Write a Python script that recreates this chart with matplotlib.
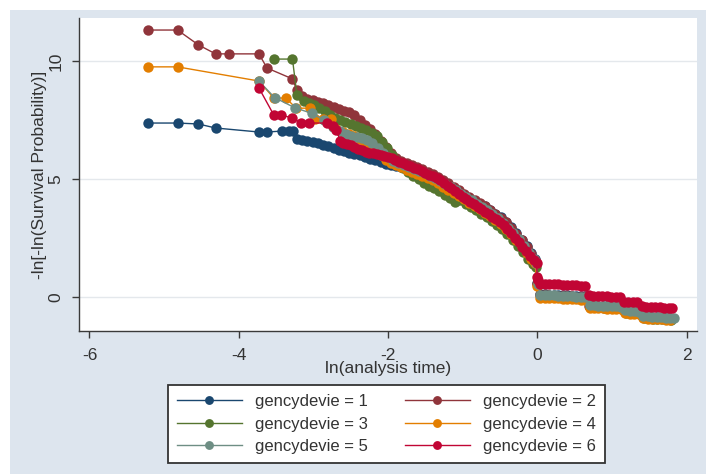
import matplotlib
matplotlib.use("Agg")
import matplotlib.pyplot as plt
from matplotlib.patches import Rectangle

plt.rcParams['font.family'] = ['Liberation Sans', 'DejaVu Sans']

labels = ["gencydevie = 1", "gencydevie = 2", "gencydevie = 3",
          "gencydevie = 4", "gencydevie = 5", "gencydevie = 6"]
colors = ["#1a476f", "#90353b", "#55752f", "#e37e00", "#6e8e84", "#c10534"]

# ---- series 1 (navy)
x1 = [-5.22, -4.82, -4.54, -4.31, -3.73, -3.62, -3.42, -3.33, -3.27,
      -3.22, -3.15, -3.08, -3.01, -2.94, -2.87, -2.80, -2.73, -2.66, -2.59, -2.52, -2.45,
      -2.38, -2.31, -2.24, -2.17, -2.10, -2.03, -1.96, -1.89, -1.82, -1.75, -1.68, -1.61,
      -1.54, -1.47, -1.40, -1.33, -1.26, -1.19, -1.12, -1.05, -0.98, -0.91, -0.84, -0.77,
      -0.70, -0.63, -0.56, -0.49, -0.42, -0.35, -0.28, -0.21, -0.14, -0.08, -0.03,
      0.00, 0.04, 0.10, 0.16, 0.22, 0.28, 0.34, 0.40, 0.46, 0.52, 0.58, 0.64,
      0.70, 0.76, 0.82, 0.88, 0.94, 1.00, 1.06, 1.12,
      1.18, 1.24, 1.30, 1.36,
      1.42, 1.48, 1.54, 1.60, 1.66, 1.72, 1.78]
y1 = [7.37, 7.37, 7.33, 7.16, 6.99, 6.99, 7.03, 7.03, 7.03,
      6.68, 6.64, 6.60, 6.57, 6.52, 6.45, 6.38, 6.30, 6.24, 6.18, 6.12, 6.06,
      6.00, 5.93, 5.86, 5.79, 5.72, 5.64, 5.60, 5.56, 5.52, 5.47, 5.42, 5.36,
      5.29, 5.22, 5.12, 5.02, 4.90, 4.76, 4.62, 4.46, 4.33, 4.19, 4.08, 3.96,
      3.84, 3.69, 3.53, 3.37, 3.17, 2.96, 2.70, 2.43, 2.14, 1.86, 1.62,
      0.60, 0.12, 0.11, 0.10, 0.10, 0.09, 0.08, 0.07, 0.06, 0.05, 0.05, 0.04,
      -0.36, -0.37, -0.38, -0.39, -0.40, -0.41, -0.42, -0.43,
      -0.60, -0.62, -0.63, -0.64,
      -0.82, -0.84, -0.85, -0.86, -0.87, -0.88, -0.89]

# ---- series 2 (maroon)
x2 = [-5.22, -4.82, -4.54, -4.31, -4.13, -3.73, -3.62, -3.28,
      -3.22, -3.15, -3.08, -3.01, -2.94, -2.87, -2.80, -2.73, -2.66, -2.59, -2.52, -2.45,
      -2.38, -2.31, -2.24, -2.17, -2.10, -2.03, -1.96, -1.89, -1.82, -1.75, -1.68, -1.61,
      -1.54, -1.47, -1.40, -1.33, -1.26, -1.19, -1.12, -1.05, -0.98, -0.91, -0.84, -0.77,
      -0.70, -0.63, -0.56, -0.49, -0.42, -0.35, -0.28, -0.21, -0.14, -0.08, -0.03,
      0.00, 0.03, 0.09, 0.15, 0.21, 0.27, 0.33, 0.39, 0.45, 0.51, 0.57, 0.63,
      0.69, 0.75, 0.81, 0.87, 0.93, 0.99, 1.05, 1.11,
      1.17, 1.23, 1.29, 1.35,
      1.41, 1.47, 1.53, 1.59, 1.65, 1.71, 1.77]
y2 = [11.31, 11.31, 10.68, 10.30, 10.30, 10.30, 9.70, 9.24,
      8.75, 8.50, 8.40, 8.33, 8.27, 8.20, 8.12, 8.04, 7.96, 7.90, 7.84, 7.70,
      7.50, 7.30, 7.10, 6.90, 6.62, 6.35, 6.10, 5.90, 5.76, 5.66, 5.58, 5.50,
      5.41, 5.31, 5.20, 5.09, 4.96, 4.82, 4.67, 4.52, 4.38, 4.25, 4.12, 3.98,
      3.84, 3.69, 3.53, 3.36, 3.16, 2.94, 2.68, 2.40, 2.10, 1.82, 1.58,
      0.55, 0.08, 0.07, 0.07, 0.06, 0.05, 0.04, 0.04, 0.03, 0.02, 0.01, 0.00,
      -0.39, -0.40, -0.41, -0.42, -0.43, -0.44, -0.45, -0.46,
      -0.62, -0.63, -0.64, -0.66,
      -0.85, -0.86, -0.87, -0.88, -0.89, -0.90, -0.91]

# ---- series 3 (green)
x3 = [-3.53, -3.28, -3.22, -3.13, -3.06, -2.99, -2.92, -2.85, -2.78, -2.71, -2.64,
      -2.57, -2.50, -2.43, -2.36, -2.29, -2.22, -2.15, -2.08, -2.01, -1.94, -1.87,
      -1.80, -1.73, -1.66, -1.59, -1.52, -1.45, -1.38, -1.31, -1.24, -1.17, -1.10,
      -1.03, -0.96, -0.89, -0.82, -0.75, -0.68, -0.61, -0.54, -0.47, -0.40, -0.33,
      -0.26, -0.19, -0.12, -0.06, -0.02,
      0.01, 0.05, 0.11, 0.17, 0.23, 0.29, 0.35, 0.41, 0.47, 0.53, 0.59, 0.65,
      0.71, 0.77, 0.83, 0.89, 0.95, 1.01, 1.07, 1.13,
      1.19, 1.25, 1.31, 1.37,
      1.43, 1.49, 1.55, 1.61, 1.67, 1.73, 1.79]
y3 = [10.08, 10.08, 8.56, 8.32, 8.20, 8.14, 8.02, 7.86, 7.70, 7.58, 7.48,
      7.40, 7.33, 7.26, 7.18, 7.08, 6.95, 6.80, 6.58, 6.30, 6.00, 5.70,
      5.45, 5.28, 5.12, 4.98, 4.84, 4.72, 4.60, 4.47, 4.33, 4.18, 4.04,
      4.10, 3.96, 3.82, 3.68, 3.53, 3.38, 3.22, 3.07, 2.89, 2.67, 2.43,
      2.16, 1.89, 1.62, 1.40, 1.28,
      0.50, 0.02, 0.01, 0.00, 0.00, -0.01, -0.02, -0.03, -0.04, -0.05, -0.06, -0.07,
      -0.42, -0.43, -0.44, -0.45, -0.46, -0.47, -0.48, -0.49,
      -0.66, -0.67, -0.68, -0.70,
      -0.90, -0.91, -0.92, -0.93, -0.94, -0.95, -0.96]

# ---- series 4 (orange)
x4 = [-5.22, -4.82, -3.73, -3.53, -3.37, -3.23, -3.04, -2.98, -2.87, -2.77, -2.69,
      -2.60, -2.52, -2.45, -2.38, -2.31, -2.24, -2.17, -2.10, -2.03, -1.96, -1.89,
      -1.82, -1.75, -1.68, -1.61, -1.54, -1.47, -1.40, -1.33, -1.26, -1.19, -1.12,
      -1.05, -0.98, -0.91, -0.84, -0.77, -0.70, -0.63, -0.56, -0.49, -0.42, -0.35,
      -0.28, -0.21, -0.14, -0.08, -0.03,
      0.00, 0.04, 0.10, 0.16, 0.22, 0.28, 0.34, 0.40, 0.46, 0.52, 0.58, 0.64,
      0.70, 0.76, 0.82, 0.88, 0.94, 1.00, 1.06, 1.12,
      1.18, 1.24, 1.30, 1.36,
      1.42, 1.48, 1.54, 1.60, 1.66, 1.72, 1.78]
y4 = [9.75, 9.75, 9.15, 8.43, 8.43, 8.00, 8.00, 7.54, 7.54, 7.54, 7.12,
      7.00, 6.92, 6.82, 6.68, 6.52, 6.35, 6.18, 6.00, 5.82, 5.68, 5.58,
      5.49, 5.40, 5.31, 5.22, 5.13, 5.04, 4.94, 4.82, 4.68, 4.55, 4.42,
      4.28, 4.14, 4.00, 3.86, 3.72, 3.57, 3.42, 3.26, 3.08, 2.88, 2.66,
      2.42, 2.16, 1.88, 1.62, 1.42,
      0.45, -0.03, -0.04, -0.05, -0.05, -0.06, -0.07, -0.08, -0.09, -0.10, -0.11, -0.12,
      -0.45, -0.46, -0.47, -0.48, -0.49, -0.50, -0.51, -0.52,
      -0.69, -0.70, -0.71, -0.72,
      -0.91, -0.92, -0.93, -0.94, -0.95, -0.96, -0.97]

# ---- series 5 (teal)
x5 = [-3.73, -3.52, -3.25, -3.02, -2.86, -2.74, -2.64, -2.56, -2.49, -2.42, -2.35,
      -2.28, -2.21, -2.14, -2.07, -2.00, -1.93, -1.86, -1.79, -1.72, -1.65, -1.58,
      -1.51, -1.44, -1.37, -1.30, -1.23, -1.16, -1.09, -1.02, -0.95, -0.88, -0.81,
      -0.74, -0.67, -0.60, -0.53, -0.46, -0.39, -0.32, -0.25, -0.18, -0.11, -0.05, -0.02,
      0.01, 0.04, 0.10, 0.16, 0.22, 0.28, 0.34, 0.40, 0.46, 0.52, 0.58, 0.64,
      0.70, 0.76, 0.82, 0.88, 0.94, 1.00, 1.06, 1.12,
      1.18, 1.24, 1.30, 1.36,
      1.42, 1.48, 1.54, 1.60, 1.66, 1.72, 1.78, 1.83]
y5 = [9.15, 8.45, 8.02, 7.78, 7.50, 7.22, 7.02, 6.92, 6.84, 6.76, 6.72,
      6.65, 6.52, 6.32, 6.10, 5.92, 5.76, 5.67, 5.58, 5.50, 5.42, 5.33,
      5.24, 5.14, 5.04, 4.93, 4.80, 4.66, 4.52, 4.38, 4.24, 4.10, 3.96,
      3.82, 3.67, 3.51, 3.34, 3.15, 2.94, 2.70, 2.44, 2.16, 1.86, 1.60, 1.45,
      0.55, 0.10, 0.09, 0.08, 0.07, 0.06, 0.05, 0.04, 0.03, 0.02, 0.01, 0.00,
      -0.34, -0.35, -0.36, -0.37, -0.38, -0.39, -0.40, -0.41,
      -0.57, -0.59, -0.61, -0.63,
      -0.80, -0.82, -0.84, -0.85, -0.86, -0.87, -0.88, -0.89]

# ---- series 6 (cranberry)
x6 = [-3.73, -3.53, -3.43, -3.28, -3.16, -3.06, -2.82, -2.74, -2.69, -2.64,
      -2.60, -2.55, -2.50, -2.45, -2.40, -2.35, -2.30, -2.25, -2.20, -2.15, -2.10,
      -2.05, -2.00, -1.95, -1.90, -1.85, -1.80, -1.75, -1.70, -1.65, -1.60, -1.55,
      -1.50, -1.45, -1.40, -1.35, -1.30, -1.25, -1.20, -1.15, -1.10, -1.05, -1.00,
      -0.95, -0.90, -0.85, -0.80, -0.75, -0.70, -0.65, -0.60, -0.55, -0.50, -0.45,
      -0.40, -0.35, -0.30, -0.25, -0.20, -0.15, -0.10, -0.05, -0.01,
      0.00, 0.01, 0.04, 0.10, 0.16, 0.22, 0.28, 0.34, 0.40, 0.46, 0.52, 0.58, 0.64,
      0.69, 0.75, 0.81, 0.87, 0.93, 0.99, 1.05, 1.11,
      1.16, 1.22, 1.28, 1.34,
      1.40, 1.46, 1.52, 1.58, 1.64, 1.70, 1.76, 1.81]
y6 = [8.86, 7.71, 7.71, 7.58, 7.37, 7.37, 7.37, 7.25, 7.06, 6.62,
      6.52, 6.47, 6.42, 6.35, 6.27, 6.21, 6.16, 6.12, 6.08, 6.05, 6.02,
      5.97, 5.93, 5.89, 5.82, 5.74, 5.67, 5.60, 5.54, 5.48, 5.42, 5.35,
      5.27, 5.19, 5.11, 5.03, 4.95, 4.84, 4.72, 4.60, 4.48, 4.35, 4.24,
      4.14, 4.04, 3.94, 3.83, 3.73, 3.62, 3.51, 3.40, 3.29, 3.18, 3.03,
      2.87, 2.70, 2.52, 2.32, 2.12, 1.93, 1.72, 1.55, 1.42,
      0.85, 0.70, 0.57, 0.56, 0.55, 0.54, 0.53, 0.52, 0.51, 0.50, 0.49, 0.48, 0.47,
      0.08, 0.06, 0.05, 0.04, 0.03, 0.02, 0.01, 0.00,
      -0.20, -0.21, -0.22, -0.23,
      -0.40, -0.41, -0.42, -0.43, -0.44, -0.45, -0.46, -0.47]

xs = [x1, x2, x3, x4, x5, x6]
ys = [y1, y2, y3, y4, y5, y6]

W, H = 706, 474
fig = plt.figure(figsize=(W / 100, H / 100), dpi=100)
fig.patch.set_facecolor("white")
fig.patches.append(Rectangle((10 / W, 0), 1 - 10 / W, 1 - 10 / H,
                             transform=fig.transFigure, facecolor="#dde5ee",
                             edgecolor="none", zorder=-10))

ax = fig.add_axes([79 / W, 1 - 331 / H, (697 - 79) / W, (331 - 18) / H])
ax.set_zorder(1)
ax.set_facecolor("white")
ax.set_xlim(-6.14, 2.14)
ax.set_ylim(-1.44, 11.82)

for yg in [0, 5, 10]:
    ax.axhline(yg, color="#e4e8ec", lw=1.0, zorder=1)

handles = []
for xv, yv, c, lab in zip(xs, ys, colors, labels):
    h, = ax.plot(xv, yv, color=c, lw=1.0, marker="o", ms=7.5,
                 markeredgewidth=0, label=lab, zorder=3)
    handles.append(h)

for s in ["top", "right"]:
    ax.spines[s].set_visible(False)
for s in ["left", "bottom"]:
    ax.spines[s].set_color("#3a3a3a")
    ax.spines[s].set_linewidth(1.0)

ax.set_xticks([-6, -4, -2, 0, 2])
ax.set_xticklabels(["-6", "-4", "-2", "0", "2"])
ax.set_yticks([0, 5, 10])
ax.set_yticklabels(["0", "5", "10"], rotation=90, va="center")
ax.tick_params(axis="both", direction="out", length=5, width=1,
               color="#3a3a3a", labelsize=12.5, labelcolor="#333333")
ax.tick_params(axis="x", pad=7)
ax.tick_params(axis="y", pad=6)

fig.text(388 / W, 1 - 369 / H, "ln(analysis time)", ha="center", va="center",
         fontsize=12.5, color="#333333")
fig.text(40 / W, 1 - 175 / H, "-ln[-ln(Survival Probability)]", ha="center",
         va="center", rotation=90, fontsize=12.5, color="#333333")

order = [0, 2, 4, 1, 3, 5]
leg = fig.legend([handles[i] for i in order], [labels[i] for i in order],
                 ncol=2, loc="center", bbox_to_anchor=(386.5 / W, 1 - 424 / H),
                 fontsize=12, frameon=True, fancybox=False, framealpha=1,
                 edgecolor="#333333", handlelength=3.9, handletextpad=0.8,
                 columnspacing=2.2, labelspacing=0.45, borderpad=0.55,
                 numpoints=1, markerscale=0.85)
leg.get_frame().set_linewidth(1.3)
for t in leg.get_texts():
    t.set_color("#333333")

fig.savefig("out.png", dpi=100, facecolor=fig.get_facecolor())
